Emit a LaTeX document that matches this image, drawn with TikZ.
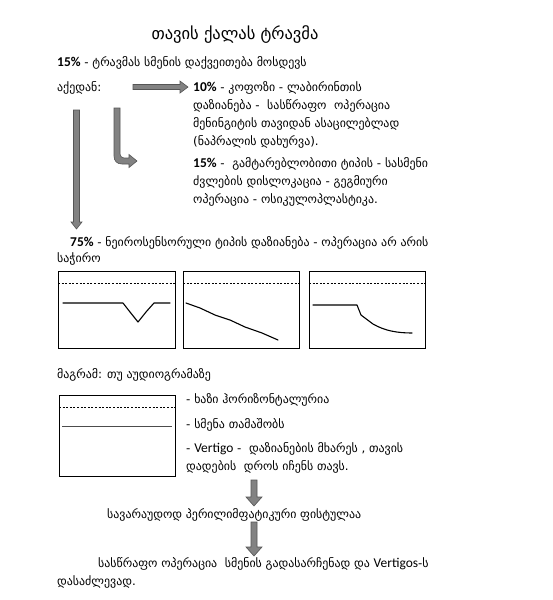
\documentclass[tikz,border=0pt]{standalone}
\usepackage{fontspec}
\setmainfont{DejaVu Sans}
\newfontfamily\lat[Scale=1.13]{Carlito}
\definecolor{arrowgray}{RGB}{130,130,130}
\definecolor{arrowedge}{RGB}{85,85,85}
\begin{document}
\begin{tikzpicture}[x=1pt,y=-1pt,
  txt/.style={anchor=base west, inner sep=0pt, font=\fontsize{11.9}{13}\selectfont},
  blockarrow/.style={fill=arrowgray, draw=arrowedge, line width=0.6pt, line join=miter},
  chart/.style={draw=black, line width=1pt},
  refline/.style={dash pattern=on 2pt off 1.6pt, line width=0.6pt},
  audio/.style={line width=1.1pt, line join=round, line cap=round}]
\useasboundingbox (0,0) rectangle (553,600);
\fill[white] (0,0) rectangle (553,600);

% title
\node[anchor=base, inner sep=0pt, font=\fontsize{16.5}{18}\selectfont] (title) at (235,39) {თავის ქალას ტრავმა};

% first block
\node[txt] (l1) at (57,66) {{\lat\bfseries 15\%} - ტრავმას სმენის დაქვეითება მოსდევს};
\node[txt] (aqedan) at (57,91) {აქედან:};

\node[txt] (a1) at (193,91) {{\lat\bfseries 10\%} - კოფოზი - ლაბირინთის};
\node[txt] (a2) at (193,109) {დაზიანება -\ \ სასწრაფო\ \ ოპერაცია};
\node[txt] (a3) at (193,127) {მენინგიტის თავიდან ასაცილებლად};
\node[txt] (a4) at (193,145) {(ნაპრალის დახურვა).};

\node[txt] (b1) at (193,167) {{\lat\bfseries 15\%} -\ \ გამტარებლობითი ტიპის - სასმენი};
\node[txt] (b2) at (193,185) {ძვლების დისლოკაცია - გეგმიური};
\node[txt] (b3) at (193,203) {ოპერაცია - ოსიკულოპლასტიკა.};

\node[txt] (c1) at (70,246) {{\lat\bfseries 75\%} - ნეიროსენსორული ტიპის დაზიანება - ოპერაცია არ არის};
\node[txt] (c2) at (57,262) {საჭირო};

% arrows of first block
\draw[blockarrow] (133,84.5) -- (180,84.5) -- (180,81) -- (188,87) -- (180,93) -- (180,89.5) -- (133,89.5) -- cycle;
\draw[blockarrow] (73.5,110) -- (79.5,110) -- (79.5,222) -- (82,222) -- (76.5,229) -- (71,222) -- (73.5,222) -- cycle;
\draw[blockarrow] (114,108) -- (120,108) -- (120,154)
   .. controls (120,156.2) and (121.8,158) .. (124,158)
   -- (129,158) -- (129,154.5) -- (137,161) -- (129,167.5) -- (129,164) -- (122,164)
   .. controls (117,164) and (114,161) .. (114,156) -- cycle;

% three audiograms
\draw[chart] (58,271) rectangle (175,348);
\draw[chart] (183,271) rectangle (299,348);
\draw[chart] (309,271) rectangle (425,348);
\draw[refline] (58,283) -- (175,283);
\draw[refline] (183,283) -- (299,283);
\draw[refline] (309,283) -- (425,283);
\draw[audio] (63,303) -- (123,303) -- (130,312) -- (138,322) -- (146,312) -- (154,303) -- (170,303);
\draw[audio] (186,303) -- (200,308) -- (215,315) -- (230,320) -- (245,327) -- (262,333) -- (278,340);
\draw[audio] (313,305) -- (357,305) -- (361,315) -- (373,324) .. controls (385,331) and (398,333) .. (412,333);

% legend
\node[txt] (m1) at (57,378) {მაგრამ: თუ აუდიოგრამაზე};
\draw[chart] (59,395) rectangle (175,476);
\draw[refline, line width=0.9pt] (59,407) -- (175,407);
\draw[line width=0.7pt, black!70] (62,426) -- (172,426);
\node[txt] (k1) at (186,403) {- ხაზი ჰორიზონტალურია};
\node[txt] (k2) at (186,428) {- სმენა თამაშობს};
\node[txt] (k3) at (186,452) {- {\lat Vertigo} -\ \ დაზიანების მხარეს , თავის};
\node[txt] (k4) at (186,470) {დადების\ \ დროს იჩენს თავს.};

% final chain
\draw[blockarrow] (251,480) -- (257,480) -- (257,497) -- (262,497) -- (254,506) -- (246,497) -- (251,497) -- cycle;
\node[txt] (f1) at (107,518) {სავარაუდოდ პერილიმფატიკური ფისტულაა};
\draw[blockarrow] (251,522) -- (257,522) -- (257,547) -- (262,547) -- (254,556) -- (246,547) -- (251,547) -- cycle;
\node[txt] (g1) at (98,567) {სასწრაფო ოპერაცია\ \ სმენის გადასარჩენად და {\lat Vertigos}-ს};
\node[txt] (g2) at (57,585) {დასაძლევად.};
\end{tikzpicture}
\end{document}
